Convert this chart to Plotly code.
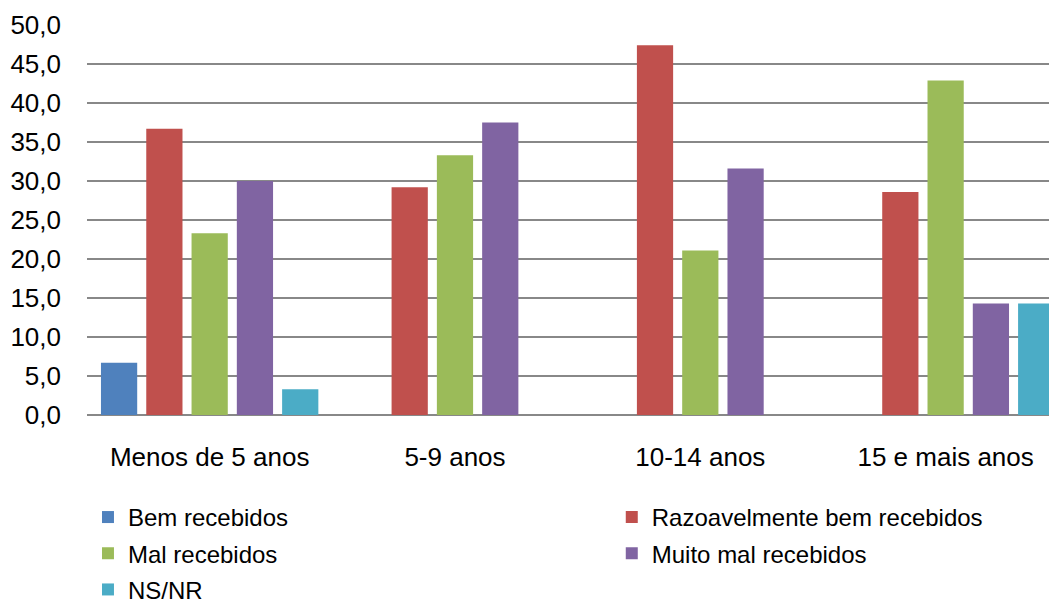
import plotly.graph_objects as go

categories = ["Menos de 5 anos", "5-9 anos", "10-14 anos", "15 e mais anos"]
bem = [6.7, 0, 0, 0]
razoavel = [36.7, 29.2, 47.4, 28.6]
mal = [23.3, 33.3, 21.1, 42.9]
muito_mal = [30.0, 37.5, 31.6, 14.3]
nsnr = [3.3, 0, 0, 14.3]

# name, values, colour, which legend column
series = [
    ("Bem recebidos", bem, "#4F81BD", "legend"),
    ("Razoavelmente bem recebidos", razoavel, "#C0504D", "legend2"),
    ("Mal recebidos", mal, "#9BBB59", "legend"),
    ("Muito mal recebidos", muito_mal, "#8064A2", "legend2"),
    ("NS/NR", nsnr, "#4BACC6", "legend"),
]

xpos = list(range(len(categories)))

fig = go.Figure()
for name, vals, col, leg in series:
    fig.add_trace(go.Bar(x=xpos, y=vals, name=name, legend=leg, legendgroup=name,
                         marker=dict(color=col, line=dict(width=0))))

font = "Liberation Sans, Arial, sans-serif"
legfont = dict(size=24, family=font, color="#000000")
# page body has an 8px margin, so the figure is a bit smaller than the window
fig.update_layout(
    width=1049, height=597,
    margin=dict(l=79, r=0, t=17, b=190, autoexpand=False),
    paper_bgcolor="white", plot_bgcolor="white",
    barmode="group", bargap=0.077, bargroupgap=0.2,
    separators=", ",
    font=dict(family=font, color="#000000"),
    showlegend=True,
    legend=dict(orientation="v", x=0.001, xanchor="left", y=-0.205, yanchor="top",
                font=legfont, tracegroupgap=2, traceorder="grouped"),
    legend2=dict(orientation="v", x=0.541, xanchor="left", y=-0.205, yanchor="top",
                 font=legfont, tracegroupgap=2, traceorder="grouped"),
)
fig.update_xaxes(range=[-0.5, 3.454], tickvals=xpos, ticktext=categories,
                 showgrid=False, showline=False, ticks="", ticklabelstandoff=24,
                 tickfont=dict(size=26, family=font))
fig.update_yaxes(range=[0, 50], dtick=5, tickformat=".1f",
                 showgrid=True, gridcolor="#888888", gridwidth=1.5,
                 zeroline=True, zerolinecolor="#888888", zerolinewidth=1.5,
                 ticks="", ticklabelstandoff=25, tickfont=dict(size=26, family=font))

fig.write_html("out.html")
